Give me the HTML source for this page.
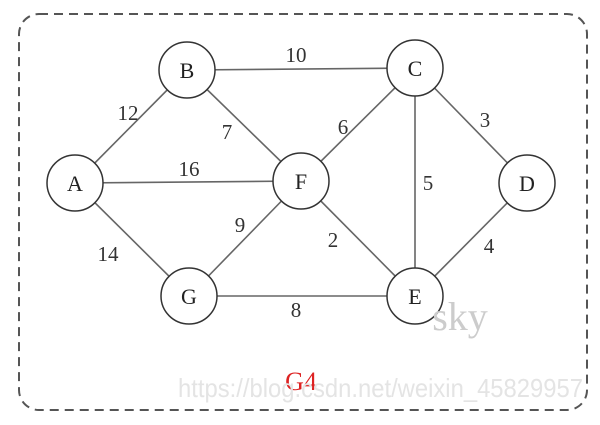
<!DOCTYPE html>
<html><head><meta charset="utf-8"><style>
html,body{margin:0;padding:0;background:#fff;width:600px;height:425px;overflow:hidden}
svg text{font-family:"Liberation Serif",serif}
</style></head><body>
<svg width="600" height="425" viewBox="0 0 600 425" xmlns="http://www.w3.org/2000/svg">
<rect x="19" y="14" width="568" height="396" rx="20" fill="none" stroke="#555" stroke-width="2" stroke-dasharray="9,6"/>
<g stroke="#666" stroke-width="1.6">
<line x1="75" y1="183" x2="187" y2="70"/>
<line x1="75" y1="183" x2="301" y2="181"/>
<line x1="75" y1="183" x2="189" y2="296"/>
<line x1="187" y1="70" x2="415" y2="68"/>
<line x1="187" y1="70" x2="301" y2="181"/>
<line x1="415" y1="68" x2="301" y2="181"/>
<line x1="415" y1="68" x2="415" y2="296"/>
<line x1="415" y1="68" x2="527" y2="183"/>
<line x1="301" y1="181" x2="189" y2="296"/>
<line x1="301" y1="181" x2="415" y2="296"/>
<line x1="527" y1="183" x2="415" y2="296"/>
<line x1="189" y1="296" x2="415" y2="296"/>
</g>
<g fill="#fff" stroke="#333" stroke-width="1.5">
<circle cx="75" cy="183" r="28"/><circle cx="187" cy="70" r="28"/>
<circle cx="415" cy="68" r="28"/><circle cx="527" cy="183" r="28"/>
<circle cx="301" cy="181" r="28"/><circle cx="189" cy="296" r="28"/>
<circle cx="415" cy="296" r="28"/>
</g>
<g font-size="22" fill="#222" text-anchor="middle">
<text x="75" y="191">A</text><text x="187" y="78">B</text>
<text x="415" y="76">C</text><text x="527" y="191">D</text>
<text x="301" y="189">F</text><text x="189" y="304">G</text>
<text x="415" y="304">E</text>
</g>
<g font-size="21" fill="#333" text-anchor="middle">
<text x="296" y="62">10</text><text x="128" y="120">12</text>
<text x="227" y="139">7</text><text x="189" y="176">16</text>
<text x="343" y="134">6</text><text x="485" y="127">3</text>
<text x="428" y="190">5</text><text x="240" y="232">9</text>
<text x="333" y="247">2</text><text x="108" y="261">14</text>
<text x="489" y="253">4</text><text x="296" y="317">8</text>
</g>
<text x="460" y="330" font-size="40" fill="#ccc" text-anchor="middle">sky</text>
<text x="301" y="390" font-size="26" fill="#d22" text-anchor="middle">G4</text>
<text x="178" y="397" font-size="26" fill="#e4e4e4" textLength="405" lengthAdjust="spacingAndGlyphs" style="font-family:'Liberation Sans',sans-serif">https://blog.csdn.net/weixin_45829957</text>
</svg>
</body></html>
